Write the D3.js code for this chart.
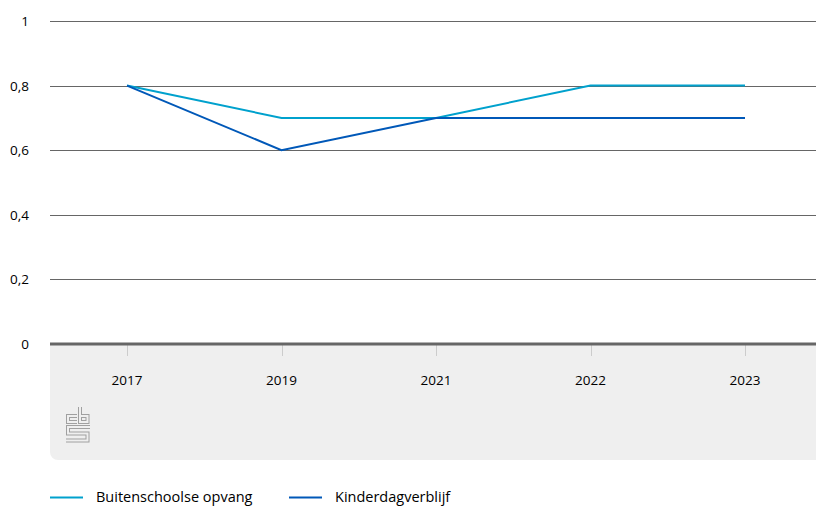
<!DOCTYPE html>
<html><head><meta charset="utf-8">
<script src="https://cdn.jsdelivr.net/npm/d3@7"></script>
<style>body{margin:0;background:#fff;}svg{display:block;font-family:"Open Sans",sans-serif;}</style>
</head><body>
<script>
const categories = ["2017","2019","2021","2022","2023"];
const buitenschoolse = [0.8,0.7,0.7,0.8,0.8];
const kinderdagverblijf = [0.8,0.6,0.7,0.7,0.7];
const yTicks = [0,0.2,0.4,0.6,0.8,1];
const seriesNames = ["Buitenschoolse opvang","Kinderdagverblijf"];
const colors = ["#00a1cd","#0058b8"];

const W=816,H=506;
const svg=d3.select("body").append("svg").attr("width",W).attr("height",H);
const x=d3.scalePoint().domain(categories).range([127,745]);
const y=d3.scaleLinear().domain([0,1]).range([344,21]);

// panel
const px=50,py=344,pw=W-50,ph=116,r=8;
svg.append("path").attr("fill","#efefef")
 .attr("d",`M${px},${py}H${px+pw}V${py+ph}H${px+r}A${r},${r} 0 0 1 ${px},${py+ph-r}Z`);

// grid
svg.append("g").selectAll("line").data(yTicks.filter(d=>d>0)).join("line")
 .attr("x1",50).attr("x2",W).attr("y1",d=>Math.round(y(d))+0.5).attr("y2",d=>Math.round(y(d))+0.5)
 .attr("stroke","#666").attr("stroke-width",1);
svg.append("g").selectAll("text").data(yTicks).join("text")
 .attr("x",29).attr("y",d=>y(d)+5).attr("text-anchor","end").attr("font-size",13.5).attr("fill","#000")
 .text(d=>d3.format(".1~f")(d).replace(".",","));

// x ticks
svg.append("g").selectAll("line").data(categories).join("line")
 .attr("x1",d=>Math.round(x(d))+0.5).attr("x2",d=>Math.round(x(d))+0.5).attr("y1",345).attr("y2",356)
 .attr("stroke","#ccc").attr("stroke-width",1);
svg.append("g").selectAll("text").data(categories).join("text")
 .attr("x",d=>x(d)).attr("y",385).attr("text-anchor","middle").attr("font-size",13.5).attr("fill","#000").text(d=>d);

// axis line
svg.append("line").attr("x1",50).attr("x2",W).attr("y1",344).attr("y2",344).attr("stroke","#666").attr("stroke-width",3);

// lines
const line=d3.line().x((d,i)=>x(categories[i])).y(d=>y(d));
[buitenschoolse,kinderdagverblijf].forEach((s,i)=>{
 svg.append("path").datum(s).attr("d",line).attr("fill","none").attr("stroke",colors[i]).attr("stroke-width",2);
});

// logo (outlined strokes)
const logoPaths=[
 "M77,416H68V422H77",
 "M80,407V422H87.5V416H80",
 "M90,427H68V433.5H87.5V440.5H66"
];
const lg=svg.append("g").attr("fill","none").attr("stroke-linejoin","miter").attr("stroke-linecap","butt");
lg.selectAll("path.o").data(logoPaths).join("path").attr("class","o").attr("d",d=>d).attr("stroke","#a0a0a0").attr("stroke-width",4);
lg.selectAll("path.i").data(logoPaths).join("path").attr("class","i").attr("d",d=>d).attr("stroke","#efefef").attr("stroke-width",2);

// legend
const leg=svg.append("g");
[[50,96],[289,335]].forEach((p,i)=>{
 leg.append("line").attr("x1",p[0]).attr("x2",p[0]+33).attr("y1",497.5).attr("y2",497.5).attr("stroke",colors[i]).attr("stroke-width",2);
 leg.append("text").attr("x",p[1]).attr("y",502).attr("font-size",14.5).attr("fill","#000").text(seriesNames[i]);
});
</script>
</body></html>
